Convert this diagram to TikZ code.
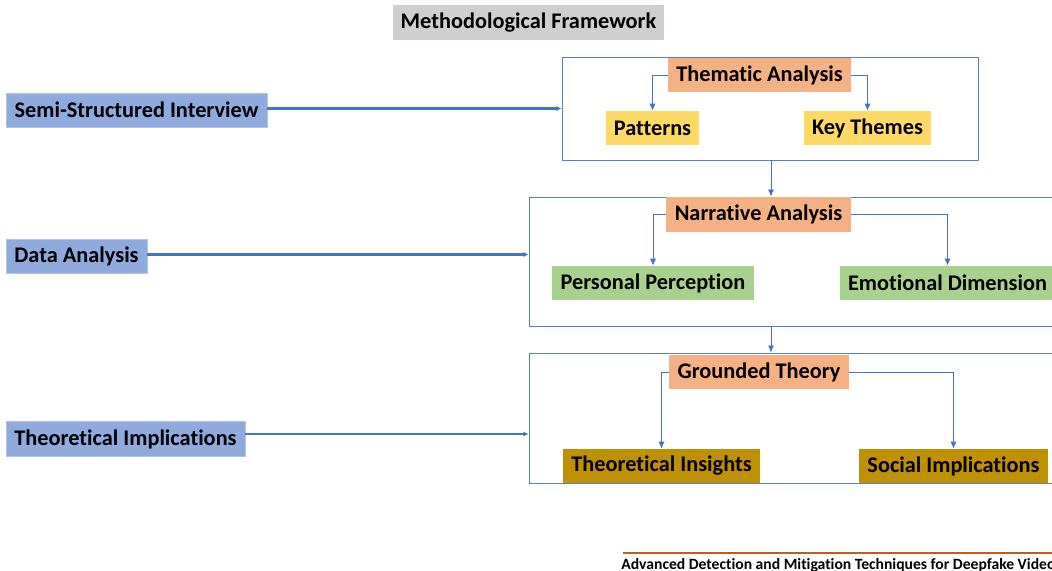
\documentclass[tikz,border=0pt]{standalone}
\usepackage{fontspec}
\setmainfont{Carlito}[Ligatures=NoCommon]
\usepackage{xcolor}
\usetikzlibrary{arrows.meta, positioning, calc}

\definecolor{stageblue}{HTML}{8FAADC}
\definecolor{linkblue}{HTML}{4472C4}
\definecolor{methodorange}{HTML}{F4B183}
\definecolor{themeyellow}{HTML}{FFD966}
\definecolor{narrgreen}{HTML}{A9D18E}
\definecolor{theorygold}{HTML}{BF9000}
\definecolor{titlegray}{HTML}{D0CECE}
\definecolor{footorange}{HTML}{C55A11}

\begin{document}
\begin{tikzpicture}[
        x=0.02cm, y=-0.02cm,
        block/.style={inner sep=0pt, minimum height=0.68cm, align=center,
            font=\fontsize{12.7}{15}\selectfont\bfseries},
        stage/.style={block, fill=stageblue, draw=stageblue!70!white, line width=0.4pt},
        method/.style={block, fill=methodorange},
        frame/.style={draw=linkblue!90!white, line width=0.5pt, inner sep=0pt},
        feed/.style={-{Latex[length=3pt, width=3pt]}, draw=linkblue, line width=1.7pt},
        link/.style={-{Latex[length=4pt, width=3.5pt]}, draw=linkblue, line width=0.5pt}
    ]
    \useasboundingbox (0,0) rectangle (1052,571);
    \clip (0,0) rectangle (1052,571);

    % Title
    \node[block, fill=titlegray, minimum width=5.42cm, minimum height=0.7cm] (title) at (528.5,22.5) {Methodological Framework};

    % Stages on the left
    \node[stage, minimum width=5.22cm] (interview) at (136.5,110) {Semi-Structured Interview};
    \node[stage, minimum width=2.82cm] (analysis) at (76.5,256) {Data Analysis};
    \node[stage, minimum width=4.78cm, minimum height=0.7cm] (implications) at (125.5,439) {Theoretical Implications};

    % Frames on the right
    \node[frame, minimum width=8.32cm, minimum height=2.06cm] (frameA) at (770,108.5) {};
    \node[frame, minimum width=10.62cm, minimum height=2.58cm] (frameB) at (794.5,261.5) {};
    \node[frame, minimum width=10.62cm, minimum height=2.6cm] (frameC) at (794.5,418) {};

    % Thematic analysis
    \node[method, minimum width=3.66cm] (thematic) at (759.5,75) {Thematic Analysis};
    \node[block, fill=themeyellow, minimum width=1.86cm] (patterns) at (652.5,128) {Patterns};
    \node[block, fill=themeyellow, minimum width=2.54cm] (themes) at (867.5,128) {Key Themes};

    % Narrative analysis
    \node[method, minimum width=3.7cm, minimum height=0.7cm] (narrative) at (758.5,214.5) {Narrative Analysis};
    \node[block, fill=narrgreen, minimum width=4.04cm] (perception) at (653,283) {Personal Perception};
    \node[block, fill=narrgreen, minimum width=4.3cm] (emotion) at (947.5,283) {Emotional Dimension};

    % Grounded theory
    \node[method, minimum width=3.6cm] (grounded) at (759,372) {Grounded Theory};
    \node[block, fill=theorygold, minimum width=3.94cm] (insights) at (661.5,466) {Theoretical Insights};
    \node[block, fill=theorygold, minimum width=3.78cm] (social) at (953.5,466) {Social Implications};

    % Stage connectors
    \draw[feed] ([yshift=0.03cm]interview.east) -- ([yshift=0.03cm]interview -| frameA.west);
    \draw[feed] ([yshift=0.03cm]analysis.east) -- ([yshift=0.03cm]analysis -| frameB.west);
    \draw[feed] ([yshift=0.1cm]implications.east) -- ([yshift=0.1cm]implications -| frameC.west);

    % Frame to frame
    \coordinate (spine) at (771,0);
    \draw[link] (spine |- frameA.south) -- (spine |- frameB.north);
    \draw[link] (spine |- frameB.south) -- (spine |- frameC.north);

    % Inner connectors
    \draw[link] (thematic.west) -| (patterns.north);
    \draw[link] (thematic.east) -| (themes.north);
    \draw[link] (narrative.west) -| (perception.north);
    \draw[link] (narrative.east) -| (emotion.north);
    \draw[link] (grounded.west) -| (insights.north);
    \draw[link] (grounded.east) -| (social.north);

    % Footer
    \node[anchor=base west, inner sep=0pt, font=\fontsize{8.9}{10}\selectfont\bfseries] (footer) at (621,569) {Advanced Detection and Mitigation Techniques for Deepfake Videos};
    \draw[footorange, line width=1.1pt] ([yshift=0.32cm]footer.base west) ++(2,0) -- ([yshift=0.32cm]footer.base east);
\end{tikzpicture}
\end{document}
